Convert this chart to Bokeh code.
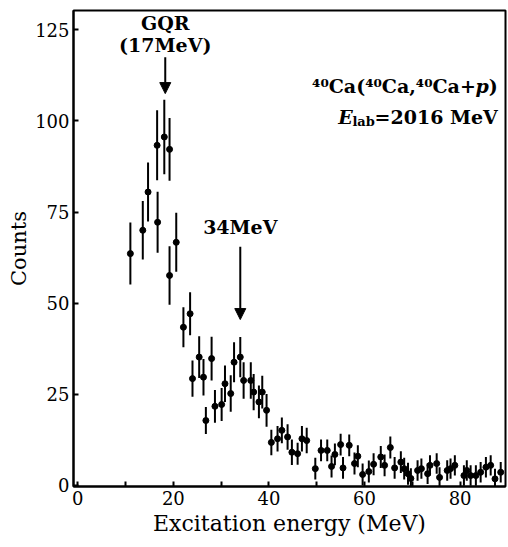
from bokeh.plotting import figure
from bokeh.models import ColumnDataSource, Label, Arrow, NormalHead, FixedTicker, Range1d
from bokeh.embed import file_html
from bokeh.resources import INLINE

# Excitation energy (MeV)
energy = [11.0, 13.6, 14.7, 16.6, 16.7, 18.1, 19.2, 19.2, 20.6,
          22.1, 23.5, 24.0, 25.4, 26.3, 26.8, 28.0, 28.7, 30.1, 30.8,
          32.0, 32.7, 34.0, 34.7, 36.2, 36.8, 37.9, 38.6, 39.5, 40.5,
          41.8, 42.7, 43.9, 44.8, 46.0, 46.9, 47.9, 49.7, 50.9, 52.2,
          53.1, 53.8, 55.0, 55.5, 56.8, 57.9, 58.6, 59.6, 60.9, 61.9,
          63.4, 64.2, 65.4, 66.3, 67.6, 68.3, 69.1, 69.7, 71.1, 71.9,
          73.2, 73.7, 75.1, 75.7, 77.3, 78.0, 78.9, 80.8, 81.4, 82.2,
          83.3, 84.3, 85.4, 86.4, 87.3, 88.5]
# Counts
counts = [63.6, 70.0, 80.5, 93.3, 72.2, 95.6, 92.2, 57.6, 66.7,
          43.4, 47.1, 29.3, 35.2, 29.7, 17.8, 34.8, 21.7, 22.2, 27.9,
          25.2, 33.8, 35.2, 28.8, 28.8, 25.6, 22.9, 25.6, 20.6, 11.8,
          12.8, 15.1, 13.3, 9.1, 8.7, 12.8, 12.3, 4.6, 9.6, 9.6,
          5.2, 8.5, 11.2, 4.8, 11.0, 6.0, 8.0, 3.0, 3.8, 5.8,
          7.8, 5.5, 10.4, 4.8, 6.4, 4.6, 3.2, 1.9, 4.1, 4.6,
          3.2, 5.5, 6.0, 2.2, 4.1, 4.6, 5.5, 2.7, 4.1, 2.7,
          2.7, 3.6, 5.0, 5.5, 1.8, 3.6]
# Statistical errors (counts)
errors = [8.5, 8.0, 8.1, 9.6, 8.4, 10.2, 8.6, 8.0, 8.1,
          5.5, 5.9, 5.0, 5.7, 5.0, 3.7, 6.0, 4.5, 4.5, 5.0,
          5.0, 5.5, 5.5, 5.0, 5.0, 5.0, 4.5, 4.5, 4.5, 3.5,
          3.5, 3.5, 3.5, 3.5, 3.0, 3.5, 3.5, 3.0, 3.0, 3.0,
          3.0, 3.0, 3.0, 3.0, 3.0, 3.0, 3.0, 3.0, 3.0, 3.0,
          3.0, 3.0, 3.0, 3.0, 3.0, 3.0, 3.0, 2.8, 2.8, 2.8,
          2.8, 2.8, 2.8, 2.8, 2.8, 2.8, 2.8, 2.8, 2.8, 2.8,
          2.8, 2.8, 2.8, 2.8, 2.8, 2.8]

x_ticks = [0, 20, 40, 60, 80]
x_minor_ticks = [10, 30, 50, 70]
y_ticks = [0, 25, 50, 75, 100, 125]

SERIF = "DejaVu Serif"

lo = [c - e for c, e in zip(counts, errors)]
hi = [c + e for c, e in zip(counts, errors)]
src = ColumnDataSource(dict(x=energy, y=counts, lo=lo, hi=hi))

p = figure(width=508, height=547, output_backend="svg", toolbar_location=None,
           x_range=Range1d(-0.9, 89.5), y_range=Range1d(-0.3, 130.3),
           min_border_left=73, min_border_right=3, min_border_top=10,
           min_border_bottom=61)
p.background_fill_color = "white"
p.border_fill_color = "white"
p.outline_line_color = "black"
p.outline_line_width = 2
p.xgrid.visible = False
p.ygrid.visible = False

p.xaxis.ticker = FixedTicker(ticks=x_ticks, minor_ticks=x_minor_ticks)
p.yaxis.ticker = FixedTicker(ticks=y_ticks, minor_ticks=[])
for ax in (p.xaxis, p.yaxis):
    ax.axis_line_width = 2
    ax.axis_line_color = "black"
    ax.major_tick_in = 5
    ax.major_tick_out = 0
    ax.minor_tick_in = 5
    ax.minor_tick_out = 0
    ax.major_tick_line_width = 2
    ax.minor_tick_line_width = 2
    ax.major_label_text_font = SERIF
    ax.major_label_text_font_size = "18px"
    ax.major_label_text_color = "black"
    ax.axis_label_text_font = SERIF
    ax.axis_label_text_font_style = "normal"
    ax.axis_label_text_color = "black"
p.xaxis.axis_label_text_font_size = "22px"
p.yaxis.axis_label_text_font_size = "21px"
p.xaxis.major_label_standoff = 4
p.yaxis.major_label_standoff = 4
p.xaxis.axis_label = "Excitation energy (MeV)"
p.yaxis.axis_label = "Counts"
p.xaxis.axis_label_standoff = 3
p.yaxis.axis_label_standoff = 1

p.segment("x", "lo", "x", "hi", source=src, line_width=2, line_color="black")
p.scatter("x", "y", source=src, size=6, marker="circle", color="black")

# annotations
gqr_x, gqr_y0, gqr_y1 = 18.3, 117.5, 107.5
mev34_x, mev34_y0, mev34_y1 = 34.0, 65.5, 45.5

p.add_layout(Arrow(end=NormalHead(size=11, fill_color="black", line_color="black"),
                   x_start=gqr_x, y_start=gqr_y0, x_end=gqr_x, y_end=gqr_y1,
                   line_width=2, line_color="black"))
p.add_layout(Arrow(end=NormalHead(size=11, fill_color="black", line_color="black"),
                   x_start=mev34_x, y_start=mev34_y0, x_end=mev34_x, y_end=mev34_y1,
                   line_width=2, line_color="black"))

def lab(x, y, text, size="19px", style="bold", align="center", xo=0, yo=0):
    p.add_layout(Label(x=x, y=y, text=text, text_align=align, text_baseline="middle",
                       text_font=SERIF, text_font_size=size, text_font_style=style,
                       text_color="black", x_offset=xo, y_offset=yo))

lab(gqr_x, 127.0, "GQR")
lab(gqr_x, 120.7, "(17MeV)")
lab(mev34_x, 70.8, "34MeV")

rx = 87.9
lab(rx, 109.5, ")", align="right")
lab(rx, 109.5, "p", align="right", style="bold italic", xo=-9)
lab(rx, 109.5, "⁴⁰Ca(⁴⁰Ca,⁴⁰Ca+", align="right", xo=-22)

lab(rx, 101.2, "=2016 MeV", align="right")
lab(rx, 101.2, "lab", size="13px", align="right", style="bold", xo=-123, yo=-5)
lab(rx, 101.2, "E", align="right", style="bold italic", xo=-145)

open("out.html", "w").write(file_html(p, INLINE))
